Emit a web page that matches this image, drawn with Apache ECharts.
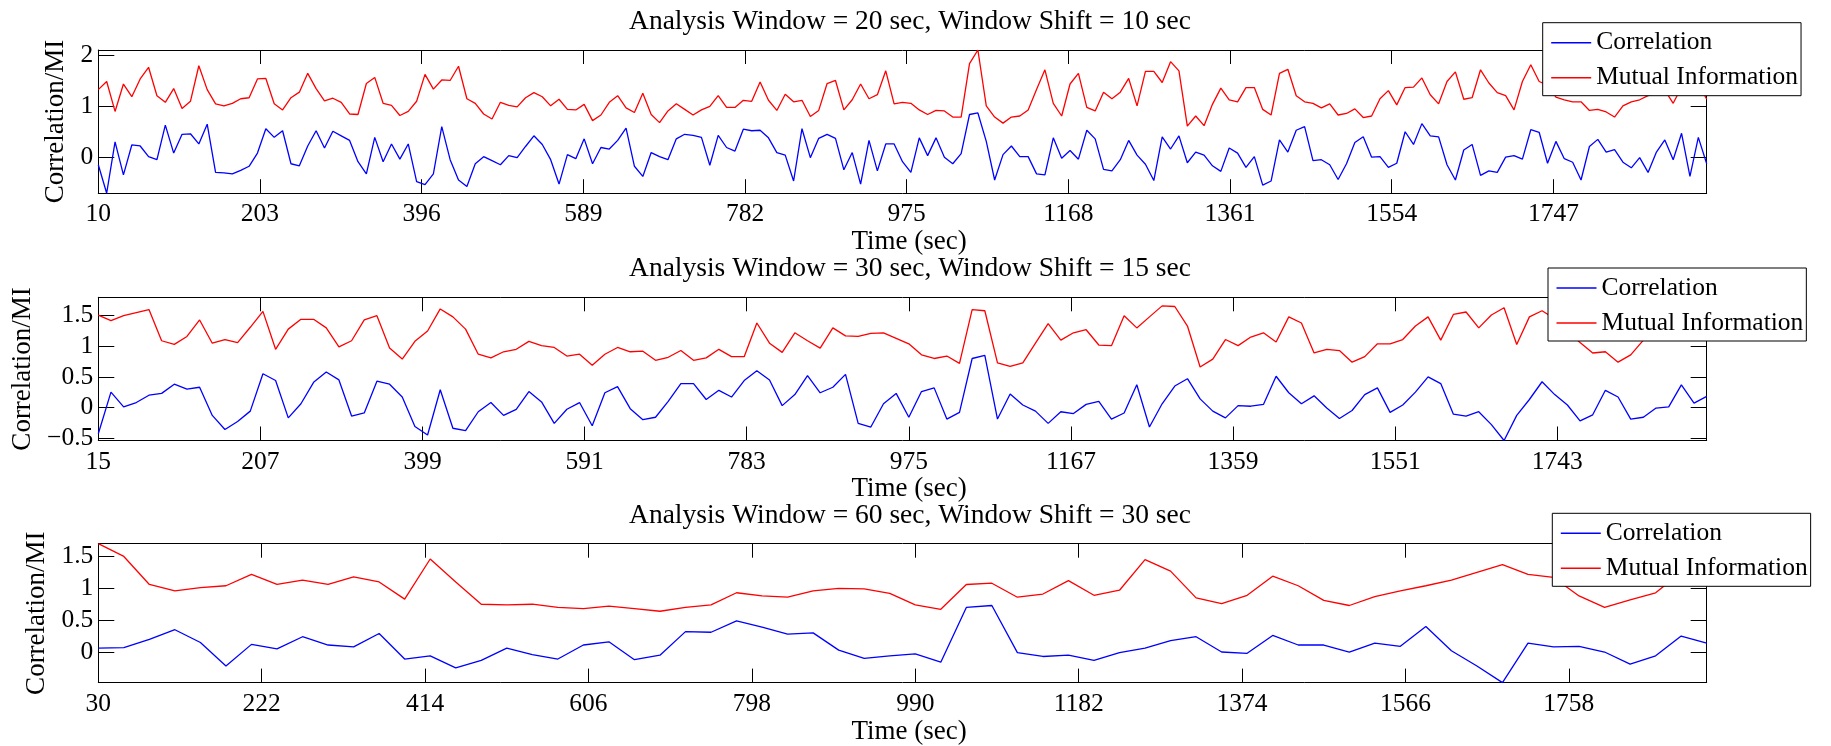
<!DOCTYPE html>
<html>
<head>
<meta charset="utf-8">
<script src="https://cdn.jsdelivr.net/npm/echarts@6/dist/echarts.min.js"></script>
<style>
  html, body { margin: 0; padding: 0; background: #fff; }
  #chart { width: 1831px; height: 746px; }
</style>
</head>
<body>
<div id="chart"></div>
<script>
  // window = 20 s, shift = 10 s (t = 10, 20, ... 1930)
  const start20 = 10, shift20 = 10;
  const corr20 = [
    -0.15, -0.71, 0.30, -0.35, 0.24, 0.22, 0.01, -0.05, 0.63, 0.08,
    0.45, 0.46, 0.26, 0.65, -0.30, -0.31, -0.33, -0.26, -0.18, 0.08,
    0.56, 0.39, 0.52, -0.13, -0.17, 0.22, 0.52, 0.18, 0.51, 0.42,
    0.33, -0.09, -0.33, 0.39, -0.09, 0.26, -0.04, 0.26, -0.48, -0.54,
    -0.33, 0.60, -0.05, -0.45, -0.58, -0.13, 0.01, -0.07, -0.15, 0.03,
    -0.01, 0.21, 0.42, 0.25, -0.05, -0.53, 0.05, -0.03, 0.36, -0.13,
    0.19, 0.16, 0.33, 0.57, -0.18, -0.38, 0.09, 0.01, -0.05, 0.36,
    0.45, 0.43, 0.39, -0.16, 0.43, 0.19, 0.12, 0.55, 0.52, 0.53,
    0.38, 0.09, 0.04, -0.47, 0.56, -0.01, 0.37, 0.45, 0.37, -0.25,
    0.09, -0.53, 0.33, -0.27, 0.26, 0.26, -0.09, -0.30, 0.38, 0.03,
    0.38, 0.00, -0.13, 0.07, 0.84, 0.87, 0.31, -0.45, 0.05, 0.22,
    0.01, 0.01, -0.33, -0.35, 0.38, -0.02, 0.13, -0.04, 0.53, 0.36,
    -0.24, -0.27, -0.05, 0.33, 0.04, -0.14, -0.46, 0.40, 0.16, 0.42,
    -0.11, 0.10, 0.04, -0.17, -0.28, 0.18, 0.08, -0.20, 0.01, -0.55,
    -0.47, 0.34, 0.10, 0.53, 0.60, -0.07, -0.05, -0.15, -0.44, -0.13,
    0.29, 0.40, 0.00, 0.01, -0.20, -0.12, 0.50, 0.25, 0.66, 0.42,
    0.40, -0.15, -0.45, 0.14, 0.25, -0.36, -0.27, -0.30, 0.00, 0.03,
    -0.04, 0.54, 0.49, -0.12, 0.31, -0.03, -0.10, -0.45, 0.21, 0.35,
    0.10, 0.15, -0.10, -0.21, -0.01, -0.30, 0.10, 0.34, -0.05, 0.47,
    -0.38, 0.39, -0.13
  ];
  const mi20 = [
    1.33, 1.49, 0.90, 1.44, 1.19, 1.54, 1.77, 1.21, 1.08, 1.35,
    0.96, 1.10, 1.80, 1.33, 1.05, 1.01, 1.06, 1.15, 1.17, 1.54,
    1.55, 1.05, 0.93, 1.17, 1.28, 1.65, 1.35, 1.11, 1.16, 1.08,
    0.85, 0.84, 1.45, 1.57, 1.06, 1.02, 0.82, 0.90, 1.10, 1.63,
    1.34, 1.52, 1.51, 1.79, 1.15, 1.06, 0.85, 0.75, 1.08, 1.02,
    0.99, 1.17, 1.27, 1.19, 1.01, 1.14, 0.94, 0.93, 1.04, 0.72,
    0.83, 1.08, 1.21, 0.97, 0.88, 1.26, 0.84, 0.68, 0.91, 1.05,
    0.94, 0.83, 0.93, 1.00, 1.21, 0.98, 0.98, 1.12, 1.10, 1.48,
    1.12, 0.92, 1.24, 1.09, 1.12, 0.80, 0.92, 1.45, 1.51, 0.93,
    1.13, 1.44, 1.15, 1.23, 1.70, 1.05, 1.08, 1.06, 0.93, 0.84,
    0.92, 0.91, 0.79, 0.79, 1.84, 2.11, 1.01, 0.79, 0.67, 0.79,
    0.81, 0.93, 1.33, 1.72, 1.06, 0.81, 1.44, 1.65, 0.98, 0.91,
    1.28, 1.15, 1.28, 1.55, 1.01, 1.69, 1.69, 1.47, 1.88, 1.70,
    0.61, 0.81, 0.62, 1.04, 1.36, 1.13, 1.09, 1.37, 1.37, 0.94,
    0.83, 1.65, 1.73, 1.21, 1.09, 1.06, 0.97, 1.05, 0.83, 0.86,
    0.95, 0.78, 0.81, 1.15, 1.31, 1.03, 1.37, 1.38, 1.56, 1.23,
    1.05, 1.49, 1.68, 1.14, 1.17, 1.72, 1.46, 1.27, 1.21, 0.93,
    1.49, 1.82, 1.49, 1.42, 1.18, 1.13, 1.09, 1.09, 0.92, 0.94,
    0.89, 0.79, 1.01, 1.09, 1.13, 1.21, 1.25, 1.32, 1.06, 1.38,
    1.25, 1.45, 1.14
  ];

  // window = 30 s, shift = 15 s (t = 15, 30, ... 1920)
  const start30 = 15, shift30 = 15;
  const corr30 = [
    -0.43, 0.25, 0.01, 0.08, 0.20, 0.23, 0.38, 0.30, 0.33, -0.13,
    -0.36, -0.23, -0.06, 0.55, 0.44, -0.17, 0.06, 0.41, 0.58, 0.45,
    -0.14, -0.09, 0.43, 0.38, 0.17, -0.31, -0.45, 0.29, -0.34, -0.38,
    -0.07, 0.08, -0.13, -0.03, 0.26, 0.09, -0.26, -0.03, 0.08, -0.30,
    0.24, 0.34, -0.02, -0.20, -0.16, 0.10, 0.39, 0.39, 0.13, 0.28,
    0.17, 0.44, 0.60, 0.45, 0.03, 0.21, 0.52, 0.24, 0.33, 0.54,
    -0.26, -0.32, 0.06, 0.23, -0.16, 0.26, 0.32, -0.19, -0.08, 0.80,
    0.85, -0.19, 0.22, 0.04, -0.06, -0.26, -0.07, -0.10, 0.05, 0.10,
    -0.19, -0.09, 0.37, -0.32, 0.06, 0.35, 0.47, 0.14, -0.06, -0.17,
    0.03, 0.02, 0.05, 0.51, 0.24, 0.06, 0.19, -0.01, -0.18, -0.05,
    0.21, 0.32, -0.08, 0.04, 0.25, 0.50, 0.39, -0.11, -0.14, -0.07,
    -0.28, -0.54, -0.13, 0.13, 0.42, 0.21, 0.04, -0.22, -0.12, 0.28,
    0.17, -0.19, -0.16, -0.01, 0.01, 0.37, 0.07, 0.18
  ];
  const mi30 = [
    1.51, 1.42, 1.50, 1.55, 1.60, 1.09, 1.03, 1.16, 1.43, 1.05,
    1.11, 1.06, 1.31, 1.57, 0.95, 1.28, 1.44, 1.44, 1.30, 0.99,
    1.09, 1.43, 1.50, 0.97, 0.79, 1.08, 1.25, 1.61, 1.48, 1.28,
    0.87, 0.81, 0.91, 0.95, 1.08, 1.01, 0.98, 0.84, 0.87, 0.69,
    0.87, 0.98, 0.91, 0.92, 0.77, 0.82, 0.93, 0.77, 0.81, 0.95,
    0.83, 0.83, 1.38, 1.05, 0.90, 1.22, 1.09, 0.97, 1.30, 1.17,
    1.16, 1.21, 1.22, 1.13, 1.04, 0.86, 0.80, 0.84, 0.72, 1.60,
    1.58, 0.73, 0.67, 0.73, 1.05, 1.37, 1.10, 1.22, 1.27, 1.02,
    1.01, 1.50, 1.30, 1.48, 1.66, 1.65, 1.33, 0.66, 0.79, 1.11,
    1.01, 1.15, 1.22, 1.07, 1.48, 1.38, 0.89, 0.95, 0.93, 0.74,
    0.83, 1.04, 1.04, 1.11, 1.33, 1.48, 1.10, 1.52, 1.56, 1.30,
    1.51, 1.63, 1.03, 1.48, 1.58, 1.45, 1.25, 1.06, 0.89, 0.91,
    0.74, 0.86, 1.10, 1.35, 1.55, 1.80, 1.45, 1.52
  ];

  // window = 60 s, shift = 30 s (t = 30, 60, ... 1920)
  const start60 = 30, shift60 = 30;
  const corr60 = [
    0.06, 0.07, 0.20, 0.35, 0.15, -0.22, 0.12, 0.05, 0.24, 0.11,
    0.08, 0.29, -0.11, -0.06, -0.25, -0.13, 0.06, -0.04, -0.11, 0.11,
    0.16, -0.12, -0.05, 0.32, 0.31, 0.49, 0.39, 0.28, 0.30, 0.03,
    -0.10, -0.06, -0.03, -0.16, 0.70, 0.73, -0.01, -0.07, -0.05, -0.13,
    -0.01, 0.06, 0.18, 0.24, 0.00, -0.02, 0.26, 0.11, 0.11, 0.00,
    0.14, 0.09, 0.40, 0.02, -0.22, -0.48, 0.14, 0.08, 0.09, 0.00,
    -0.19, -0.06, 0.25, 0.14
  ];
  const mi60 = [
    1.70, 1.50, 1.06, 0.96, 1.01, 1.04, 1.22, 1.06, 1.13, 1.06,
    1.18, 1.10, 0.83, 1.46, 1.10, 0.75, 0.74, 0.75, 0.70, 0.68,
    0.72, 0.68, 0.64, 0.70, 0.74, 0.93, 0.88, 0.86, 0.96, 1.00,
    0.99, 0.92, 0.74, 0.67, 1.06, 1.08, 0.86, 0.91, 1.12, 0.89,
    0.97, 1.45, 1.27, 0.85, 0.76, 0.89, 1.19, 1.04, 0.81, 0.73,
    0.87, 0.96, 1.04, 1.13, 1.25, 1.37, 1.22, 1.17, 0.88, 0.70,
    0.82, 0.93, 1.25, 1.40
  ];

  const xTicks20 = [10, 203, 396, 589, 782, 975, 1168, 1361, 1554, 1747];
  const xTicks30 = [15, 207, 399, 591, 783, 975, 1167, 1359, 1551, 1743];
  const xTicks60 = [30, 222, 414, 606, 798, 990, 1182, 1374, 1566, 1758];
  const yTicks20 = [0, 1, 2];
  const yTicks30 = [-0.5, 0, 0.5, 1, 1.5];
  const yTicks60 = [0, 0.5, 1, 1.5];

  const titles = [
    'Analysis Window = 20 sec, Window Shift = 10 sec',
    'Analysis Window = 30 sec, Window Shift = 15 sec',
    'Analysis Window = 60 sec, Window Shift = 30 sec'
  ];
  const seriesNames = ['Correlation', 'Mutual Information'];

  const FONT = "'Liberation Serif', 'Times New Roman', serif";

  const panels = [
    { start: start20, shift: shift20, corr: corr20, mi: mi20, xTicks: xTicks20, yTicks: yTicks20,
      top: 50, nameGap: 25.6, legendLeft: 1542.7, legendTop: 22.7 },
    { start: start30, shift: shift30, corr: corr30, mi: mi30, xTicks: xTicks30, yTicks: yTicks30,
      top: 297.3, nameGap: 58.9, legendLeft: 1548, legendTop: 268 },
    { start: start60, shift: shift60, corr: corr60, mi: mi60, xTicks: xTicks60, yTicks: yTicks60,
      top: 543.7, nameGap: 43.9, legendLeft: 1552.3, legendTop: 513.3 }
  ];

  const plotLeft = 98.3, plotWidth = 1608.4, plotHeight = 143.2;
  const titleCenterX = 910;

  function pairs(start, shift, values) {
    return values.map((v, i) => [start + shift * i, v]);
  }
  function fmtY(v) {
    return v < 0 ? '\u2212' + Math.abs(v) : String(v);
  }
  function fmtX(v) {
    return String(v);
  }

  const grid = [], xAxis = [], yAxis = [], series = [], title = [], legend = [];

  panels.forEach((p, k) => {
    const tMax = p.start + p.shift * (p.corr.length - 1);
    const all = p.corr.concat(p.mi);
    const yMin = Math.min.apply(null, all);
    const yMax = Math.max.apply(null, all);

    grid.push({ left: plotLeft, top: p.top, width: plotWidth, height: plotHeight, containLabel: false });

    title.push({
      text: titles[k],
      left: titleCenterX,
      top: p.top - 28.4,
      textAlign: 'center',
      textVerticalAlign: 'middle',
      padding: 0,
      textStyle: { fontFamily: FONT, fontSize: 27.5, fontWeight: 'normal', color: '#000' }
    });

    const lineStyle = { color: '#000', width: 1 };
    // bottom x axis
    xAxis.push({
      gridIndex: k, type: 'value', position: 'bottom', min: p.start, max: tMax,
      axisLine: { show: true, onZero: false, lineStyle },
      axisTick: { show: true, inside: true, length: 14, customValues: p.xTicks, lineStyle },
      axisLabel: { show: true, customValues: p.xTicks, formatter: fmtX, margin: 8.5,
        color: '#000', fontFamily: FONT, fontSize: 25.5 },
      splitLine: { show: false },
      name: 'Time (sec)', nameLocation: 'middle', nameGap: 29,
      nameTextStyle: { fontFamily: FONT, fontSize: 27, color: '#000', padding: [0, 0, 0, 13] }
    });
    // top x axis (box + ticks)
    xAxis.push({
      gridIndex: k, type: 'value', position: 'top', min: p.start, max: tMax,
      axisLine: { show: true, onZero: false, lineStyle },
      axisTick: { show: true, inside: true, length: 14, customValues: p.xTicks, lineStyle },
      axisLabel: { show: false },
      splitLine: { show: false }
    });
    // left y axis
    yAxis.push({
      gridIndex: k, type: 'value', position: 'left', min: yMin, max: yMax,
      axisLine: { show: true, onZero: false, lineStyle },
      axisTick: { show: true, inside: true, length: 16, customValues: p.yTicks, lineStyle },
      axisLabel: { show: true, customValues: p.yTicks, margin: 5, color: '#000',
        fontFamily: FONT, fontSize: 25.5, formatter: fmtY },
      splitLine: { show: false },
      name: 'Correlation/MI', nameLocation: 'middle', nameGap: p.nameGap, nameRotate: 90,
      nameTextStyle: { fontFamily: FONT, fontSize: 27, color: '#000' }
    });
    // right y axis (box + ticks)
    yAxis.push({
      gridIndex: k, type: 'value', position: 'right', min: yMin, max: yMax,
      axisLine: { show: true, onZero: false, lineStyle },
      axisTick: { show: true, inside: true, length: 16, customValues: p.yTicks, lineStyle },
      axisLabel: { show: false },
      splitLine: { show: false }
    });

    series.push({
      name: seriesNames[0], type: 'line', xAxisIndex: 2 * k, yAxisIndex: 2 * k,
      data: pairs(p.start, p.shift, p.corr), symbol: 'none', showSymbol: false,
      lineStyle: { color: '#0000ff', width: 1.3 }, itemStyle: { color: '#0000ff' }
    });
    series.push({
      name: seriesNames[1], type: 'line', xAxisIndex: 2 * k, yAxisIndex: 2 * k,
      data: pairs(p.start, p.shift, p.mi), symbol: 'none', showSymbol: false,
      lineStyle: { color: '#ff0000', width: 1.3 }, itemStyle: { color: '#ff0000' }
    });

    legend.push({
      data: seriesNames,
      orient: 'vertical',
      left: p.legendLeft,
      top: p.legendTop,
      icon: 'rect',
      itemWidth: 40,
      itemHeight: 1.4,
      itemGap: 5,
      padding: [5, 3, 3, 8.5],
      borderColor: '#000',
      borderWidth: 1,
      backgroundColor: '#fff',
      selectedMode: false,
      textStyle: { fontFamily: FONT, fontSize: 25.5, color: '#000', lineHeight: 30 }
    });
  });

  const chart = echarts.init(document.getElementById('chart'), null, { renderer: 'canvas' });
  chart.setOption({
    animation: false,
    backgroundColor: '#fff',
    title, legend, grid, xAxis, yAxis, series
  });
</script>
</body>
</html>
